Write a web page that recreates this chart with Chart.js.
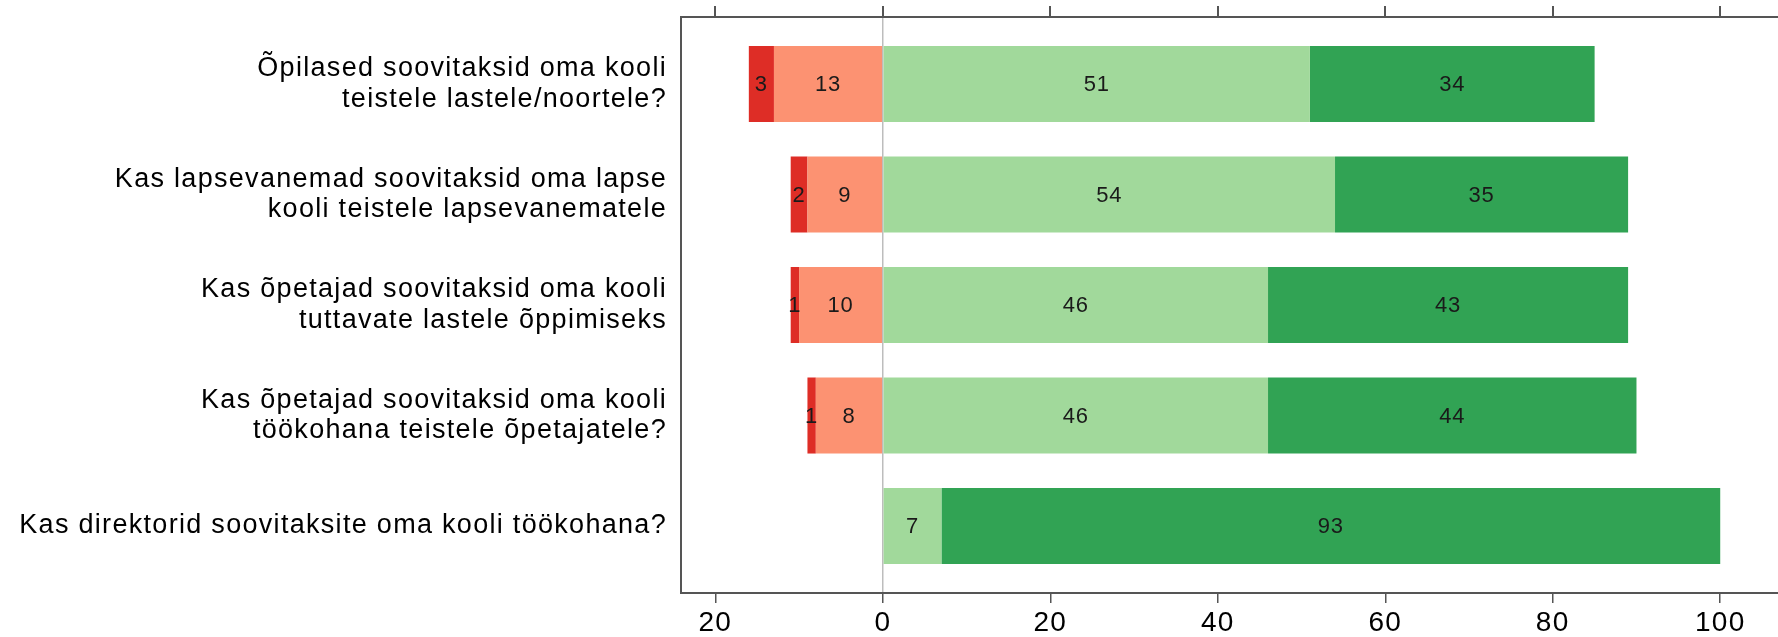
<!DOCTYPE html>
<html>
<head>
<meta charset="utf-8">
<script src="https://cdn.jsdelivr.net/npm/chart.js@4/dist/chart.umd.min.js"></script>
<style>
  html, body { margin: 0; padding: 0; background: #fff; }
  #wrap { width: 1778px; height: 637px; position: relative; }
</style>
</head>
<body>
<div id="wrap"><canvas id="chart"></canvas></div>
<script>
// categories (top to bottom) - each one is a list of lines
const categories = [
    ['Õpilased soovitaksid oma kooli', 'teistele lastele/noortele?'],
    ['Kas lapsevanemad soovitaksid oma lapse', 'kooli teistele lapsevanematele'],
    ['Kas õpetajad soovitaksid oma kooli', 'tuttavate lastele õppimiseks'],
    ['Kas õpetajad soovitaksid oma kooli', 'töökohana teistele õpetajatele?'],
    ['Kas direktorid soovitaksite oma kooli töökohana?']
];

// percentages per answer (negatives go left of zero)
const mostlyNo = [-13, -9, -10, -8, 0];
const surelyNo = [-3, -2, -1, -1, 0];
const mostlyYes = [51, 54, 46, 46, 7];
const surelyYes = [34, 35, 43, 44, 93];

const xTicks = [-20, 0, 20, 40, 60, 80, 100];

const FONT = '"Liberation Sans", Arial, sans-serif';
const AXIS_COLOR = '#555555';

function toPoints(values) {
    return values.map((v, i) => ({ x: v, y: i }));
}

// the reference text is spaced a bit wider than plain Arial
const wideText = {
    id: 'wideText',
    beforeDraw(chart) {
        chart.ctx.letterSpacing = '1.3px';
    }
};

// draws the number inside every segment
const segmentLabels = {
    id: 'segmentLabels',
    afterDatasetsDraw(chart) {
        const ctx = chart.ctx;
        ctx.save();
        ctx.letterSpacing = '0.8px';
        ctx.font = '22px ' + FONT;
        ctx.fillStyle = '#1a1a1a';
        ctx.textAlign = 'center';
        ctx.textBaseline = 'middle';
        chart.data.datasets.forEach((ds, di) => {
            const meta = chart.getDatasetMeta(di);
            meta.data.forEach((bar, i) => {
                const v = ds.data[i].x;
                if (!v) return;
                const cx = (bar.x + bar.base) / 2;
                ctx.fillText(String(Math.abs(v)), cx, bar.y + 1);
            });
        });
        ctx.restore();
    }
};

const barOpts = { categoryPercentage: 1, barPercentage: 0.688, borderWidth: 0 };

new Chart(document.getElementById('chart'), {
    type: 'bar',
    data: {
        datasets: [
            Object.assign({ label: 'mostlyNo', data: toPoints(mostlyNo), backgroundColor: '#FC9272' }, barOpts),
            Object.assign({ label: 'surelyNo', data: toPoints(surelyNo), backgroundColor: '#DE2D26' }, barOpts),
            Object.assign({ label: 'mostlyYes', data: toPoints(mostlyYes), backgroundColor: '#A1D99B' }, barOpts),
            Object.assign({ label: 'surelyYes', data: toPoints(surelyYes), backgroundColor: '#31A354' }, barOpts)
        ]
    },
    options: {
        indexAxis: 'y',
        responsive: true,
        maintainAspectRatio: false,
        animation: false,
        layout: { padding: 0 },
        plugins: {
            legend: { display: false },
            tooltip: { enabled: false }
        },
        scales: {
            x: {
                type: 'linear',
                position: 'bottom',
                stacked: true,
                min: -24.1,
                max: 106.9,
                afterBuildTicks: (scale) => { scale.ticks = xTicks.map(v => ({ value: v })); },
                afterFit: (scale) => { scale.height = 44; scale.paddingLeft = 0; scale.paddingRight = 0; },
                ticks: {
                    callback: (v) => String(Math.abs(v)),
                    color: '#000',
                    font: { family: FONT, size: 28 },
                    padding: 3,
                    maxRotation: 0
                },
                grid: {
                    color: (c) => (c.tick && c.tick.value === 0) ? '#bdbdbd' : 'rgba(0,0,0,0)',
                    tickColor: AXIS_COLOR,
                    tickLength: 10,
                    lineWidth: 1.5
                },
                border: { display: true, color: AXIS_COLOR, width: 2 }
            },
            xTop: {
                type: 'linear',
                position: 'top',
                min: -24.1,
                max: 106.9,
                afterBuildTicks: (scale) => { scale.ticks = xTicks.map(v => ({ value: v })); },
                afterFit: (scale) => { scale.height = 17; },
                ticks: { display: false },
                grid: {
                    drawOnChartArea: false,
                    tickColor: AXIS_COLOR,
                    tickLength: 11,
                    lineWidth: 2
                },
                border: { display: true, color: AXIS_COLOR, width: 2 }
            },
            y: {
                type: 'linear',
                stacked: true,
                reverse: true,
                offset: false,
                min: -0.606,
                max: 4.606,
                afterBuildTicks: (scale) => { scale.ticks = categories.map((c, i) => ({ value: i })); },
                afterFit: (scale) => { scale.width = 681; scale.paddingTop = 0; scale.paddingBottom = 0; },
                ticks: {
                    callback: (v) => categories[v] || '',
                    color: '#000',
                    font: { family: FONT, size: 27, lineHeight: 1.13 },
                    padding: 14
                },
                grid: { display: false, drawTicks: false, offset: false },
                border: { display: true, color: AXIS_COLOR, width: 2 }
            }
        }
    },
    plugins: [wideText, segmentLabels]
});
</script>
</body>
</html>
